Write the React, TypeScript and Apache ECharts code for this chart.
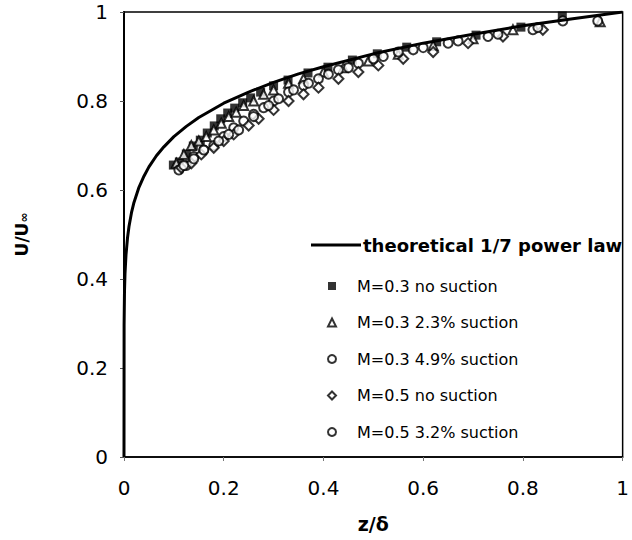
import React, { useEffect, useRef } from "react";
import * as echarts from "echarts";

const xTicks = [0, 0.2, 0.4, 0.6, 0.8, 1];
const yTicks = [0, 0.2, 0.4, 0.6, 0.8, 1];

const theoryX = [0, 0.0002, 0.001, 0.002, 0.004, 0.007, 0.01, 0.015, 0.02, 0.03, 0.04, 0.05, 0.065, 0.08, 0.1, 0.125, 0.15, 0.2, 0.25, 0.3, 0.35, 0.4, 0.5, 0.6, 0.7, 0.8, 0.9, 1];
const theoryY = [0, 0.296, 0.373, 0.412, 0.454, 0.492, 0.518, 0.549, 0.572, 0.606, 0.631, 0.652, 0.677, 0.697, 0.72, 0.743, 0.763, 0.795, 0.82, 0.842, 0.861, 0.877, 0.906, 0.93, 0.95, 0.969, 0.985, 1];

const m3NoX = [0.099, 0.111, 0.125, 0.139, 0.153, 0.167, 0.181, 0.194, 0.208, 0.222, 0.238, 0.254, 0.274, 0.3, 0.329, 0.369, 0.409, 0.458, 0.508, 0.567, 0.627, 0.706, 0.796, 0.879];
const m3NoY = [0.656, 0.663, 0.681, 0.699, 0.712, 0.728, 0.744, 0.76, 0.773, 0.784, 0.796, 0.807, 0.82, 0.834, 0.847, 0.863, 0.876, 0.892, 0.906, 0.921, 0.933, 0.948, 0.966, 0.991];

const m3S23X = [0.105, 0.12, 0.135, 0.15, 0.165, 0.18, 0.195, 0.21, 0.225, 0.24, 0.26, 0.28, 0.3, 0.33, 0.36, 0.4, 0.44, 0.49, 0.55, 0.62, 0.7, 0.78, 0.955];
const m3S23Y = [0.66, 0.68, 0.7, 0.71, 0.72, 0.735, 0.75, 0.765, 0.775, 0.79, 0.8, 0.815, 0.825, 0.84, 0.85, 0.865, 0.875, 0.89, 0.905, 0.925, 0.94, 0.96, 0.978];

const m3S49X = [0.11, 0.125, 0.14, 0.16, 0.18, 0.2, 0.22, 0.24, 0.26, 0.28, 0.3, 0.33, 0.36, 0.39, 0.43, 0.47, 0.52, 0.58, 0.65, 0.73, 0.82, 0.88];
const m3S49Y = [0.645, 0.655, 0.675, 0.69, 0.7, 0.72, 0.74, 0.755, 0.77, 0.785, 0.8, 0.82, 0.835, 0.85, 0.87, 0.885, 0.9, 0.915, 0.93, 0.945, 0.96, 0.98];

const m5NoX = [0.115, 0.135, 0.155, 0.18, 0.2, 0.22, 0.25, 0.27, 0.3, 0.33, 0.36, 0.39, 0.43, 0.47, 0.51, 0.56, 0.62, 0.69, 0.76, 0.84];
const m5NoY = [0.65, 0.66, 0.68, 0.695, 0.71, 0.725, 0.745, 0.76, 0.78, 0.8, 0.815, 0.83, 0.85, 0.865, 0.88, 0.895, 0.91, 0.93, 0.945, 0.96];

const m5S32X = [0.12, 0.14, 0.16, 0.19, 0.21, 0.23, 0.26, 0.29, 0.31, 0.34, 0.37, 0.41, 0.45, 0.5, 0.55, 0.6, 0.67, 0.75, 0.83, 0.95];
const m5S32Y = [0.655, 0.67, 0.69, 0.71, 0.725, 0.735, 0.765, 0.79, 0.805, 0.825, 0.84, 0.86, 0.875, 0.895, 0.91, 0.92, 0.935, 0.95, 0.965, 0.98];

const names = [
  "theoretical 1/7 power law",
  "M=0.3 no suction",
  "M=0.3 2.3% suction",
  "M=0.3 4.9% suction",
  "M=0.5 no suction",
  "M=0.5 3.2% suction",
];

const zip = (xs: number[], ys: number[]) => xs.map((x, i) => [x, ys[i]]);

export default function App() {
  const ref = useRef<HTMLDivElement>(null);
  useEffect(() => {
    if (!ref.current) return;
    const chart = echarts.init(ref.current, undefined, { renderer: "svg" });
    const font = "'DejaVu Sans', Verdana, sans-serif";
    const hollow = {
      color: "#fff",
      borderColor: "#000",
      borderWidth: 2,
    };
    chart.setOption({
      animation: false,
      backgroundColor: "#fff",
      textStyle: { fontFamily: font, color: "#000" },
      grid: {
        left: 124,
        right: 4,
        top: 12,
        bottom: 83,
        show: true,
        borderColor: "#000",
        borderWidth: 1.5,
      },
      xAxis: {
        type: "value",
        min: xTicks[0],
        max: xTicks[xTicks.length - 1],
        interval: 0.2,
        name: "z/δ",
        nameLocation: "middle",
        nameGap: 57,
        nameTextStyle: { fontSize: 19, fontWeight: "bold", color: "#000", fontFamily: font },
        axisLine: { lineStyle: { color: "#000", width: 1.5 } },
        axisTick: { show: true, length: 4, lineStyle: { color: "#777" } },
        axisLabel: { fontSize: 20, color: "#000", margin: 21, fontFamily: font },
        splitLine: { show: false },
      },
      yAxis: {
        type: "value",
        min: yTicks[0],
        max: yTicks[yTicks.length - 1],
        interval: 0.2,
        name: "U/U{s|∞}",
        nameLocation: "middle",
        nameGap: 94,
        nameRotate: 90,
        nameTextStyle: {
          fontSize: 17,
          fontWeight: "bold",
          color: "#000",
          fontFamily: font,
          rich: { s: { fontSize: 12, fontWeight: "bold", color: "#000", fontFamily: font, verticalAlign: "bottom" } },
        },
        axisLine: { lineStyle: { color: "#000", width: 2 } },
        axisTick: { show: true, length: 4, lineStyle: { color: "#555" } },
        axisLabel: { fontSize: 20, color: "#000", margin: 16, fontFamily: font },
        splitLine: { show: false },
      },
      legend: [
        {
          data: [names[0]],
          left: 306,
          top: 231,
          itemWidth: 50,
          itemHeight: 3,
          icon: "rect",
          itemStyle: { color: "#000" },
          textStyle: { fontSize: 18, fontWeight: "bold", color: "#000", fontFamily: font, padding: [0, 0, 0, -3] },
        },
        {
          data: names.slice(1),
          orient: "vertical",
          left: 322,
          top: 273,
          itemWidth: 8,
          itemHeight: 8,
          itemGap: 20.5,
          itemStyle: { borderWidth: 2 },
          textStyle: { fontSize: 16, color: "#000", fontFamily: font, lineHeight: 16, padding: [0, 0, 0, 16] },
        },
      ],
      series: [
        {
          name: names[0],
          type: "line",
          data: zip(theoryX, theoryY),
          showSymbol: false,
          symbol: "none",
          lineStyle: { color: "#000", width: 3 },
          itemStyle: { color: "#000" },
          z: 3,
        },
        {
          name: names[1],
          type: "scatter",
          data: zip(m3NoX, m3NoY),
          symbol: "rect",
          symbolSize: 9,
          itemStyle: { color: "#000" },
        },
        {
          name: names[2],
          type: "scatter",
          data: zip(m3S23X, m3S23Y),
          symbol: "triangle",
          symbolSize: 9,
          itemStyle: hollow,
        },
        {
          name: names[3],
          type: "scatter",
          data: zip(m3S49X, m3S49Y),
          symbol: "circle",
          symbolSize: 9,
          itemStyle: hollow,
        },
        {
          name: names[4],
          type: "scatter",
          data: zip(m5NoX, m5NoY),
          symbol: "diamond",
          symbolSize: 10,
          itemStyle: hollow,
        },
        {
          name: names[5],
          type: "scatter",
          data: zip(m5S32X, m5S32Y),
          symbol: "circle",
          symbolSize: 9,
          itemStyle: hollow,
        },
      ],
    });
    return () => chart.dispose();
  }, []);
  return (
    <div
      ref={ref}
      style={{ width: 632, height: 540, position: "fixed", left: 0, top: 0, background: "#fff" }}
    />
  );
}
